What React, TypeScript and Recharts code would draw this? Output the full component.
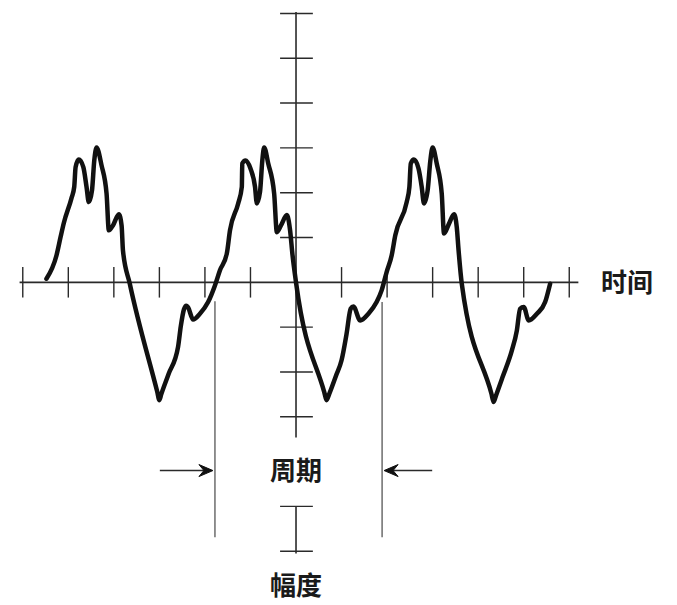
import React from 'react';
import {
  LineChart,
  Line,
  XAxis,
  YAxis,
  ReferenceLine,
  ReferenceDot,
} from 'recharts';

// waveform, in grid divisions (time, amplitude)
const cycle1T = [-5.48, -5.26, -5.17, -5.1, -4.93, -4.87, -4.84, -4.77, -4.67, -4.6, -4.55, -4.48, -4.43, -4.38, -4.27, -4.16, -4.11, -4.02, -3.89, -3.83, -3.8, -3.65, -3.05, -3.0, -2.96, -2.8, -2.59, -2.53, -2.46, -2.41, -2.37, -2.26, -2.11, -1.93, -1.78, -1.67];
const cycle1V = [0.08, 0.6, 1.01, 1.32, 1.88, 2.13, 2.57, 2.74, 2.57, 2.13, 1.79, 2.05, 2.72, 3.01, 2.61, 1.98, 1.16, 1.27, 1.52, 1.27, 0.71, -0.03, -2.43, -2.63, -2.5, -2.05, -1.44, -0.98, -0.6, -0.52, -0.56, -0.83, -0.7, -0.44, -0.07, 0.27];

const cycle2T = [-1.52, -1.45, -1.27, -1.19, -1.18, -1.11, -1.0, -0.9, -0.86, -0.79, -0.74, -0.7, -0.61, -0.48, -0.42, -0.33, -0.2, -0.13, -0.08, 0.0, 0.62, 0.67, 0.73, 0.88, 1.0, 1.11, 1.2, 1.26, 1.41, 1.59, 1.77, 1.88, 1.99];
const cycle2V = [0.64, 1.16, 1.76, 2.13, 2.65, 2.72, 2.54, 2.13, 1.76, 2.02, 2.72, 3.01, 2.65, 1.98, 1.12, 1.27, 1.5, 1.16, 0.64, -0.0, -2.45, -2.63, -2.49, -2.08, -1.74, -1.15, -0.59, -0.54, -0.85, -0.7, -0.44, -0.18, 0.23];

const cycle3T = [2.1, 2.18, 2.43, 2.49, 2.52, 2.59, 2.69, 2.76, 2.81, 2.89, 2.95, 3.0, 3.09, 3.2, 3.25, 3.36, 3.47, 3.53, 3.57, 3.64, 4.29, 4.34, 4.39, 4.53, 4.74, 4.85, 4.92, 5.0, 5.11, 5.29, 5.47, 5.58];
const cycle3V = [0.6, 1.05, 1.79, 2.13, 2.65, 2.74, 2.54, 2.13, 1.76, 2.05, 2.72, 3.01, 2.65, 1.98, 1.09, 1.31, 1.52, 1.23, 0.71, -0.03, -2.48, -2.67, -2.53, -2.13, -1.52, -1.07, -0.59, -0.55, -0.85, -0.7, -0.44, -0.03];

const timeTicks = [-6, -5, -4, -3, -2, -1, 1, 2, 3, 4, 5, 6];
const ampTicks = [6, 5, 4, 3, 2, 1, -1, -2, -3, -5, -6];

const periodStart = -1.78;
const periodEnd = 1.89;

const timeLabel = '时间';
const ampLabel = '幅度';
const periodLabel = '周期';

const data = [
  ...cycle1T.map((t, i) => ({ t, v: cycle1V[i] })),
  ...cycle2T.map((t, i) => ({ t, v: cycle2V[i] })),
  ...cycle3T.map((t, i) => ({ t, v: cycle3V[i] })),
];

const AXIS = '#2a2a2a';
const FONT = '"Noto Sans CJK SC", "Noto Sans", sans-serif';

const Arrow = (props: any) => {
  const { x1, y1, x2, y2 } = props;
  const dir = x2 > x1 ? 1 : -1;
  const tip = x2 - dir * 2;
  const head = `M${tip},${y2} L${tip - dir * 14},${y2 - 6} L${tip - dir * 9},${y2} L${tip - dir * 14},${y2 + 6} Z`;
  return (
    <g>
      <line x1={x1} y1={y1} x2={tip - dir * 8} y2={y2} stroke={AXIS} strokeWidth={1.4} />
      <path d={head} fill="#111" stroke="#111" strokeWidth={1} strokeLinejoin="round" />
    </g>
  );
};

const labelStyle = (value: string) => ({
  value,
  position: 'center' as const,
  fill: '#1a1a1a',
  fontSize: 26,
  fontWeight: 600,
  fontFamily: FONT,
});

export default function App() {
  return (
    <div style={{ position: 'absolute', left: 0, top: 0, background: '#fff' }}>
      <LineChart
        width={677}
        height={605}
        data={data}
        margin={{ top: 0, right: 3, bottom: 0, left: 0 }}
      >
        <XAxis dataKey="t" type="number" domain={[-6.5, 8.3]} hide />
        <YAxis type="number" domain={[-7.2, 6.3]} hide />

        {/* time axis */}
        <ReferenceLine segment={[{ x: -6.07, y: 0 }, { x: 6.2, y: 0 }]} stroke={AXIS} strokeWidth={1.6} />
        {timeTicks.map((t) => (
          <ReferenceLine key={'xt' + t} segment={[{ x: t, y: -0.34 }, { x: t, y: 0.34 }]} stroke={AXIS} strokeWidth={1.4} />
        ))}

        {/* amplitude axis, broken around the period label */}
        <ReferenceLine segment={[{ x: 0, y: 6.03 }, { x: 0, y: -3.46 }]} stroke={AXIS} strokeWidth={1.6} />
        <ReferenceLine segment={[{ x: 0, y: -5.0 }, { x: 0, y: -6.05 }]} stroke={AXIS} strokeWidth={1.6} />
        {ampTicks.map((a) => (
          <ReferenceLine key={'yt' + a} segment={[{ x: -0.35, y: a }, { x: 0.37, y: a }]} stroke={AXIS} strokeWidth={1.4} />
        ))}

        {/* period markers */}
        <ReferenceLine segment={[{ x: periodStart, y: -0.42 }, { x: periodStart, y: -5.69 }]} stroke="#555" strokeWidth={1.3} />
        <ReferenceLine segment={[{ x: periodEnd, y: -0.44 }, { x: periodEnd, y: -5.69 }]} stroke="#555" strokeWidth={1.3} />
        <ReferenceLine segment={[{ x: -2.99, y: -4.2 }, { x: periodStart, y: -4.2 }]} shape={Arrow} />
        <ReferenceLine segment={[{ x: 2.99, y: -4.2 }, { x: periodEnd, y: -4.2 }]} shape={Arrow} />

        <ReferenceDot x={0} y={-4.2} r={0} stroke="none" fill="none" label={labelStyle(periodLabel)} />
        <ReferenceDot x={0} y={-6.76} r={0} stroke="none" fill="none" label={labelStyle(ampLabel)} />
        <ReferenceDot x={7.27} y={0} r={0} stroke="none" fill="none" label={labelStyle(timeLabel)} />

        <Line
          type="monotone"
          dataKey="v"
          stroke="#111"
          strokeWidth={4.5}
          strokeLinejoin="round"
          strokeLinecap="round"
          dot={false}
          activeDot={false}
          isAnimationActive={false}
        />
      </LineChart>
    </div>
  );
}
